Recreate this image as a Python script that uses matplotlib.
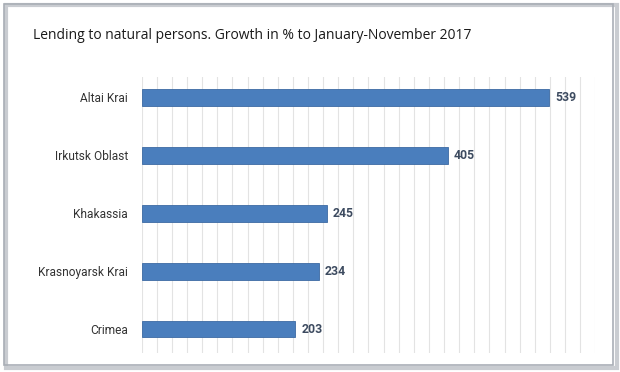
import numpy as np
import matplotlib.pyplot as plt
from matplotlib.patches import Rectangle

regions = ["Altai Krai", "Irkutsk Oblast", "Khakassia", "Krasnoyarsk Krai", "Crimea"]
growth = [539, 405, 245, 234, 203]
title = "Lending to natural persons. Growth in % to January-November 2017"

plt.rcParams["font.family"] = ["Roboto", "DejaVu Sans"]

fig = plt.figure(figsize=(6.2, 3.72), dpi=100)
fig.patch.set_facecolor("white")

# panel frame with a soft shadow
fig.patches.append(Rectangle((0.010, 0.012), 0.985, 0.975, transform=fig.transFigure,
                             facecolor="none", edgecolor="#c9ccd1", linewidth=3, zorder=-2))
fig.patches.append(Rectangle((0.006, 0.018), 0.982, 0.970, transform=fig.transFigure,
                             facecolor="none", edgecolor="#a9aeb6", linewidth=1.2, zorder=-1))

fig.text(0.053, 0.905, title, fontsize=10, family=["Open Sans", "DejaVu Sans"],
         color="#1a1a1a", va="center", ha="left")

ax = fig.add_axes([0.2285, 0.050, 0.7316, 0.743])
y = np.arange(len(regions))
ax.barh(y, growth, height=0.29, color="#4a7ebd", edgecolor="#3c6aa3", linewidth=0.6, zorder=3)

for yi, v in zip(y, growth):
    ax.text(v + 8, yi, str(v), va="center", ha="left", fontsize=8.8,
            fontweight="bold", color="#3d4b60")

ax.set_xlim(0, 600)
ax.set_ylim(4.42, -0.35)
ax.set_xticks(np.arange(0, 601, 20))
ax.xaxis.grid(True, color="#e3e3e3", linewidth=0.8, zorder=0)
ax.tick_params(axis="x", bottom=False, labelbottom=False)
ax.set_yticks(y)
ax.set_yticklabels(regions, fontsize=8.6, color="#333333")
ax.tick_params(axis="y", length=0, pad=10)
for s in ax.spines.values():
    s.set_visible(False)
ax.set_facecolor("none")

fig.savefig("out.png", dpi=100)
